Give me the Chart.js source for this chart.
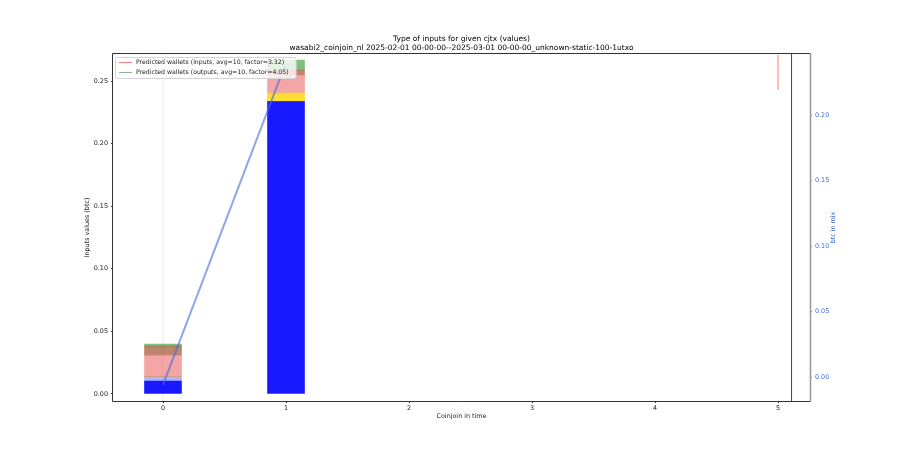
<!DOCTYPE html>
<html>
<head>
<meta charset="utf-8">
<script src="https://cdn.jsdelivr.net/npm/chart.js@4.4.1/dist/chart.umd.min.js"></script>
<style>
  html, body { margin: 0; padding: 0; background: #fff; }
  #wrap { width: 900px; height: 450px; }
</style>
</head>
<body>
<div id="wrap"><canvas id="chart"></canvas></div>
<script>
// data
const TITLE = [
  "Type of inputs for given cjtx (values)",
  "wasabi2_coinjoin_nl 2025-02-01 00-00-00--2025-03-01 00-00-00_unknown-static-100-1utxo"
];
const COINJOINS = [0, 1];
const X_TICKS = [0, 1, 2, 3, 4, 5];
const Y_TICKS = [0, 0.05, 0.10, 0.15, 0.20, 0.25];
const Y1_TICKS = [0, 0.05, 0.10, 0.15, 0.20];

// stacked input values (btc), bottom to top
const VAL_BLUE      = [0.0104, 0.2336];
const VAL_LIGHTBLUE = [0.0034, 0.0];
const VAL_GOLD      = [0.0,    0.0068];
const VAL_PINK      = [0.0173, 0.0144];
const VAL_BROWN     = [0.0072, 0.0040];
const VAL_GREEN     = [0.0016, 0.0080];

// btc in mix (right axis)
const BTC_IN_MIX = [-0.006, 0.240];

// predicted wallets lines
const PRED_IN_X = [5, 5];
const PRED_IN_Y = [0.271, 0.243];
const PRED_OUT_X = [];
const PRED_OUT_Y = [];

// vertical markers
const MARK_ZERO_X = 0;
const MARK_END_X = 5.11;

const FONT = '"DejaVu Sans", sans-serif';
Chart.defaults.font.family = FONT;
Chart.defaults.color = "#222";

function pts(xs, ys) { return xs.map((x, i) => ({ x, y: ys[i] })); }
function vline(x) { return [{ x, y: 0 }, { x, y: 1 }]; }

function barSet(label, vals, color) {
  return {
    type: "bar", label, data: pts(COINJOINS, vals), backgroundColor: color,
    borderWidth: 0, barThickness: 37, stack: "s", order: 2, yAxisID: "y"
  };
}

const datasets = [
  { type: "line", label: "btc in mix", data: pts(COINJOINS, BTC_IN_MIX), yAxisID: "y1",
    borderColor: "rgba(65,105,225,0.6)", borderWidth: 2, pointRadius: 0, order: 0 },
  barSet("blue", VAL_BLUE, "rgba(0,0,255,0.9)"),
  barSet("lightblue", VAL_LIGHTBLUE, "rgba(0,0,255,0.3)"),
  barSet("gold", VAL_GOLD, "rgba(255,215,0,0.8)"),
  barSet("pink", VAL_PINK, "rgba(240,128,128,0.7)"),
  barSet("brown", VAL_BROWN, "rgba(160,82,45,0.7)"),
  barSet("green", VAL_GREEN, "rgba(0,128,0,0.5)"),
  { type: "line", label: "Predicted wallets (inputs, avg=10, factor=3.32)", data: pts(PRED_IN_X, PRED_IN_Y),
    yAxisID: "y", stack: "pin", borderColor: "rgba(255,0,0,0.2)", borderWidth: 1, pointRadius: 0, order: 1, inLegend: true },
  { type: "line", label: "Predicted wallets (outputs, avg=10, factor=4.05)", data: pts(PRED_OUT_X, PRED_OUT_Y),
    yAxisID: "y", stack: "pout", borderColor: "rgba(0,128,0,0.2)", borderWidth: 1, pointRadius: 0, order: 1, inLegend: true },
  { type: "line", label: "zero", data: vline(MARK_ZERO_X), yAxisID: "yv",
    borderColor: "rgba(0,0,0,0.08)", borderWidth: 1, pointRadius: 0, order: 3 },
  { type: "line", label: "end", data: vline(MARK_END_X), yAxisID: "yv",
    borderColor: "#444", borderWidth: 1, pointRadius: 0, order: 3 }
];

// frame, legend and right label drawn on the canvas
const extras = {
  id: "extras",
  afterDraw(chart) {
    const { ctx, chartArea: a } = chart;
    ctx.save();
    ctx.lineWidth = 1;
    ctx.strokeStyle = "#333";
    ctx.beginPath();
    ctx.moveTo(a.left - 0.5, a.top - 0.5); ctx.lineTo(a.right, a.top - 0.5);
    ctx.moveTo(a.left - 0.5, a.top - 0.5); ctx.lineTo(a.left - 0.5, a.bottom + 0.5);
    ctx.lineTo(a.right, a.bottom + 0.5);
    ctx.stroke();
    ctx.strokeStyle = "#999";
    ctx.lineWidth = 1.5;
    ctx.beginPath();
    ctx.moveTo(a.right + 0.5, a.top - 1); ctx.lineTo(a.right + 0.5, a.bottom + 1);
    ctx.stroke();

    // legend
    const items = chart.data.datasets.filter(d => d.inLegend);
    ctx.font = "6.2px " + FONT;
    const w = Math.max(...items.map(d => ctx.measureText(d.label).width)) + 28;
    const h = items.length * 10 + 1;
    const x = a.left + 2, y = a.top + 3;
    ctx.fillStyle = "rgba(255,255,255,0.8)";
    ctx.strokeStyle = "#d4d4d4";
    ctx.lineWidth = 1;
    ctx.beginPath();
    ctx.roundRect(x + 0.5, y + 0.5, w, h, 2);
    ctx.fill(); ctx.stroke();
    items.forEach((d, i) => {
      const cy = y + 5.5 + i * 10;
      ctx.strokeStyle = d.borderColor.replace(/[\d.]+\)$/, "0.5)");
      ctx.lineWidth = 1;
      ctx.beginPath(); ctx.moveTo(x + 4, cy); ctx.lineTo(x + 17, cy); ctx.stroke();
      ctx.fillStyle = "#222";
      ctx.textBaseline = "middle";
      ctx.fillText(d.label, x + 21, cy);
    });

    // right axis label, reads bottom to top
    ctx.font = "6.4px " + FONT;
    ctx.translate(833, (a.top + a.bottom) / 2);
    ctx.rotate(-Math.PI / 2);
    ctx.fillStyle = "#4169e1";
    ctx.textAlign = "center";
    ctx.textBaseline = "middle";
    ctx.fillText("btc in mix", 0, 0);
    ctx.restore();
  }
};

const tickFont = { size: 6.4 };

new Chart(document.getElementById("chart"), {
  data: { datasets },
  plugins: [extras],
  options: {
    responsive: true,
    maintainAspectRatio: false,
    animation: false,
    layout: { padding: 0 },
    plugins: {
      legend: { display: false },
      tooltip: { enabled: false },
      title: {
        display: true, text: TITLE, fullSize: false, color: "#000",
        font: { size: 7.5, weight: "normal", lineHeight: 1.2 },
        padding: { top: 34.5, bottom: 1.5 }
      }
    },
    scales: {
      x: {
        type: "linear", min: -0.4065, max: 5.26, offset: false,
        afterBuildTicks: s => { s.ticks = X_TICKS.map(v => ({ value: v })); },
        afterFit: s => { s.height = 49; },
        border: { display: false },
        grid: { offset: false, drawOnChartArea: false, tickLength: 2, color: "#333" },
        ticks: { font: tickFont, padding: 1.5, maxRotation: 0, callback: v => v },
        title: { display: true, text: "Coinjoin in time", font: tickFont, padding: { top: 0, bottom: 30 } }
      },
      y: {
        position: "left", stacked: true, min: -0.0056, max: 0.2716,
        afterBuildTicks: s => { s.ticks = Y_TICKS.map(v => ({ value: v })); },
        afterFit: s => { s.width = 113; },
        border: { display: false },
        grid: { drawOnChartArea: false, tickLength: 2, color: "#333" },
        ticks: { font: tickFont, padding: 3, callback: v => v.toFixed(2) },
        title: { display: true, text: "Inputs values (btc)", font: tickFont, padding: { top: 84, bottom: 0 } }
      },
      y1: {
        position: "right", min: -0.0183, max: 0.2466,
        afterBuildTicks: s => { s.ticks = Y1_TICKS.map(v => ({ value: v })); },
        afterFit: s => { s.width = 90; },
        border: { display: false },
        grid: { drawOnChartArea: false, tickLength: 2, color: "#7f93e0" },
        ticks: { font: tickFont, padding: 3, color: "#4169e1", callback: v => v.toFixed(2) }
      },
      yv: { display: false, min: 0, max: 1 }
    }
  }
});
</script>
</body>
</html>
